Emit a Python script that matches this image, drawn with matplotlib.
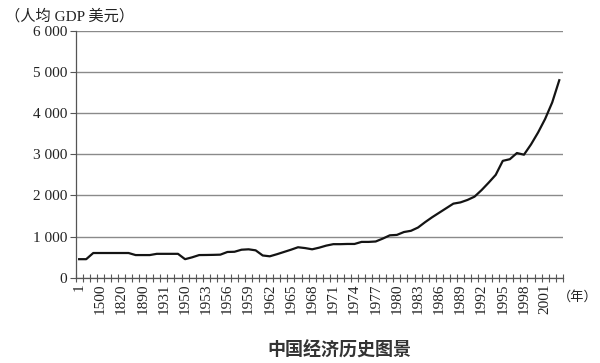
import matplotlib
matplotlib.use('Agg')
import matplotlib.pyplot as plt
from matplotlib.ticker import FixedLocator, FuncFormatter

# 类别（年份）：1950 年以前为稀疏年份，之后为逐年
early_years = ['1', '1000', '1300', '1500', '1600', '1700', '1820', '1850',
               '1870', '1890', '1900', '1913', '1931', '1933', '1938']
late_years = [str(y) for y in range(1950, 2004)]
years = early_years + late_years

# 人均 GDP（美元）
early_gdp = [450, 450, 600, 600, 600, 600, 600, 600,
             550, 550, 550, 580, 580, 580, 580]
late_gdp = [450, 495, 550, 552, 555, 560, 625, 630, 680, 690,
            665, 540, 520, 570, 625, 680, 740, 720, 690, 730,
            780, 815, 815, 820, 820, 870, 870, 880, 950, 1030,
            1040, 1110, 1140, 1220, 1350, 1470, 1580, 1690, 1800, 1830,
            1890, 1970, 2130, 2310, 2500, 2840, 2880, 3030, 2990, 3240,
            3530, 3860, 4260, 4800]
gdp = early_gdp + late_gdp

y_ticks = [0, 1000, 2000, 3000, 4000, 5000, 6000]

plt.rcParams['font.family'] = ['Liberation Serif', 'Noto Sans CJK SC']

fig = plt.figure(figsize=(6, 3.63), dpi=100)
ax = fig.add_axes([0.126, 0.235, 0.812, 0.680])

x = list(range(len(years)))
ax.plot(x, gdp, color='#141414', lw=1.6, solid_joinstyle='round')

ax.set_xlim(-0.5, len(years) - 0.5)
ax.set_ylim(0, 6000)
ax.set_yticks(y_ticks)
ax.yaxis.set_major_formatter(FuncFormatter(lambda v, p: f"{int(v):,}".replace(',', ' ')))
ax.grid(axis='y', color='#8a8a8a', lw=1)
ax.set_axisbelow(True)

# 标签每隔 3 个类别显示一次，刻度线在类别边界
ax.set_xticks(x[::3])
ax.set_xticklabels(years[::3], rotation=90)
ax.xaxis.set_minor_locator(FixedLocator([i - 0.5 for i in range(len(years) + 1)]))
ax.tick_params(axis='x', which='major', length=0, pad=4, labelsize=11, labelcolor='#222222')
ax.tick_params(axis='x', which='minor', direction='inout', length=6, width=0.8, color='#555555')
ax.tick_params(axis='y', length=4, width=0.8, color='#555555', labelsize=11,
               labelcolor='#222222', pad=2)

for s in ['top', 'right']:
    ax.spines[s].set_visible(False)
for s in ['left', 'bottom']:
    ax.spines[s].set_color('#555555')
    ax.spines[s].set_linewidth(0.9)

fig.text(0.008, 1 - 16 / 363, '（人均 GDP 美元）', fontsize=11, color='#222222', va='center')
fig.text(0.996, 1 - 297 / 363, '（年）', fontsize=9.5, color='#222222', va='center', ha='right')
fig.text(0.565, 1 - 350 / 363, '中国经济历史图景', fontsize=13, fontweight='bold',
         family='Noto Sans CJK SC', color='#333333', ha='center', va='center')

fig.savefig('out.png', dpi=100)
